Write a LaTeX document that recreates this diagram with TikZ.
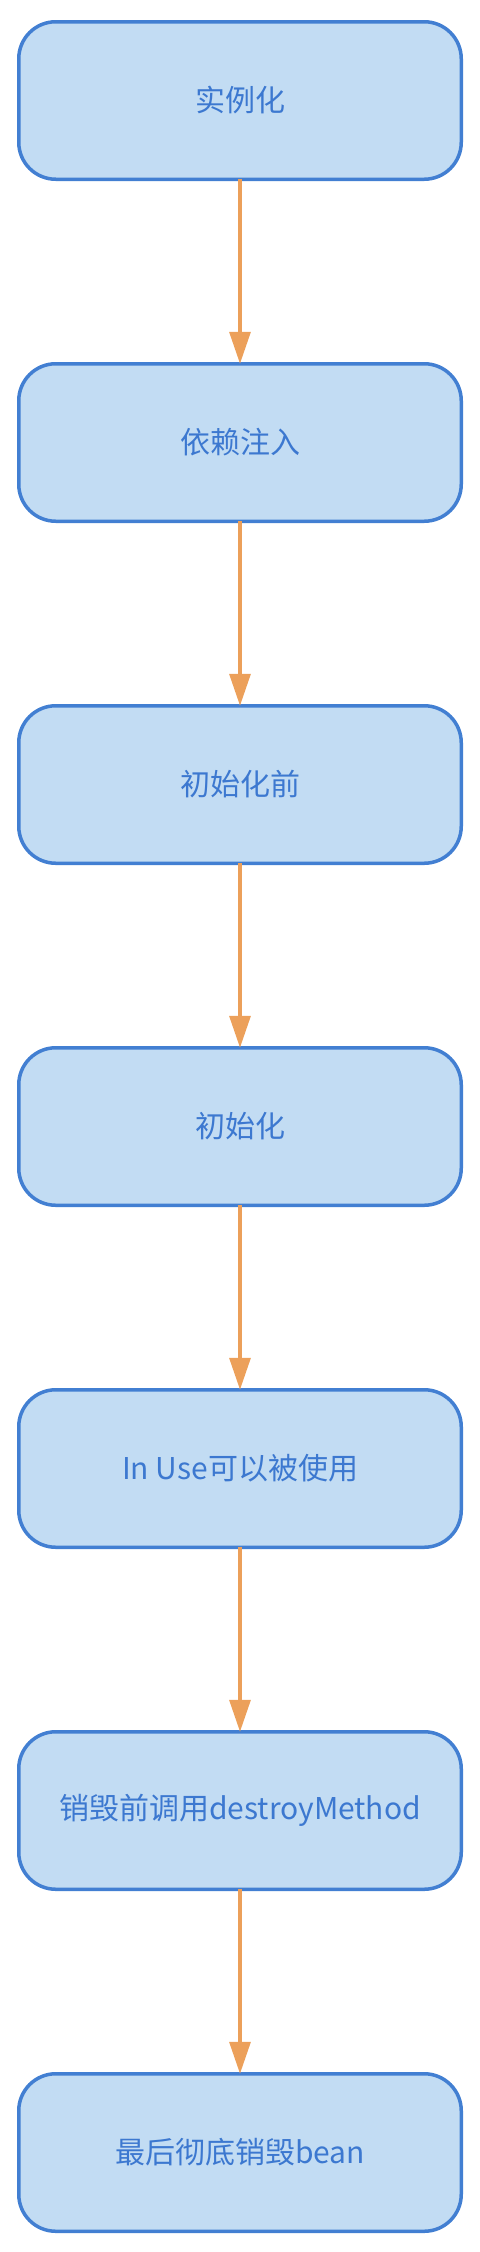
\documentclass[tikz,border=0pt]{standalone}
\usepackage{fontspec}
\setmainfont{Noto Sans CJK SC}
\usepackage{xcolor}
\usepackage{tikz}
\usetikzlibrary{arrows.meta}
\usetikzlibrary{positioning}

\definecolor{boxfill}{RGB}{194,220,243}
\definecolor{boxline}{RGB}{66,127,210}
\definecolor{boxtext}{RGB}{60,120,208}
\definecolor{flowline}{RGB}{236,160,90}

\begin{document}
\begin{tikzpicture}[
  stage/.style={draw=boxline,fill=boxfill,line width=3.5bp,rounded corners=37bp,
    minimum width=442.5bp,minimum height=157.5bp,outer sep=0pt,
    text=boxtext,font=\fontsize{30bp}{36bp}\selectfont},
  flow/.style={draw=flowline,line width=3.3bp,-{Triangle[length=32bp,width=21bp]}},
  node distance=184.5bp]
\useasboundingbox (0,0) rectangle (480bp,-2252bp);

\node [stage] (inst) at (240bp,-100.5bp) {实例化};
\node [stage,below=of inst] (inject) {依赖注入};
\node [stage,below=of inject] (preinit) {初始化前};
\node [stage,below=of preinit] (init) {初始化};
\node [stage,below=of init] (inuse) {In Use可以被使用};
\node [stage,below=of inuse] (predestroy) {销毁前调用destroyMethod};
\node [stage,below=of predestroy] (destroy) {最后彻底销毁bean};

\foreach \a/\b in {inst/inject,inject/preinit,preinit/init,init/inuse,inuse/predestroy,predestroy/destroy}
  \draw [flow] (\a) -- (\b);
\end{tikzpicture}
\end{document}
